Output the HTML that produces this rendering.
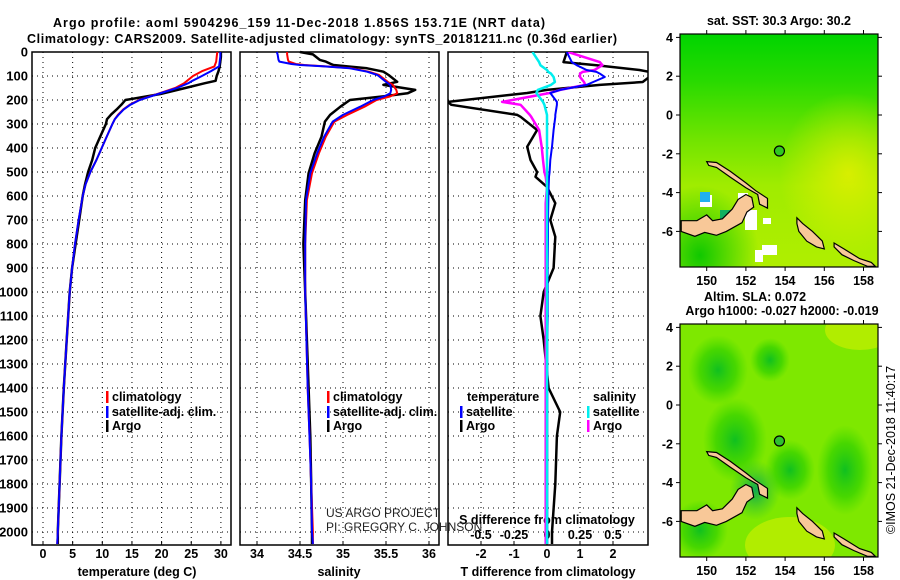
<!DOCTYPE html>
<html><head><meta charset="utf-8">
<style>
html,body{margin:0;padding:0;background:#fff;}
svg{display:block;font-family:"Liberation Sans",sans-serif;}
.b{font-weight:bold;font-size:12.5px;}
.d{font-weight:bold;font-size:13px;}
</style></head>
<body>
<svg id="c" width="900" height="580" viewBox="0 0 900 580"></svg>
<script>
// ---- data ----
const depths   = [0,20,40,60,80,100,120,130,150,175,200,220,240,260,280,300,350,400,450,500,550,600,700,800,900,1000,1200,1400,1600,1800,2000,2050];
const tempArgo = [30.0,30.0,29.9,29.8,29.6,29.3,29.1,27.3,24.0,19.8,13.9,13.2,12.4,11.5,10.8,10.6,9.7,8.8,8.3,7.6,7.1,6.7,6.1,5.5,4.9,4.5,4.0,3.5,3.1,2.8,2.5,2.5];
const tempClim = [29.4,29.3,29.2,28.9,26.8,25.3,24.3,23.8,22.3,19.3,16.2,14.6,13.5,12.7,12.1,11.7,10.8,9.9,9.0,8.0,7.2,6.7,6.0,5.4,4.9,4.5,4.0,3.5,3.1,2.8,2.5,2.4];
const tempSat  = [29.9,29.9,29.8,29.7,28.3,26.8,25.2,24.5,22.6,19.4,16.3,14.7,13.6,12.8,12.1,11.7,10.8,9.9,9.0,8.0,7.2,6.7,6.0,5.4,4.9,4.5,4.0,3.5,3.1,2.8,2.5,2.4];
const salDepths= [0,10,33,40,50,54,60,68,82,96,124,137,158,172,185,200,228,262,290,353,422,505,617,800,1000,1400,1600,1800,2000,2050];
const salArgo  = [34.50,34.65,34.73,34.80,34.86,34.89,35.05,35.28,35.47,35.53,35.63,35.47,35.84,35.75,35.47,35.08,34.97,34.85,34.79,34.75,34.67,34.60,34.56,34.54,34.56,34.60,34.62,34.63,34.64,34.64];
const salClim  = [34.35,34.35,34.36,34.37,34.45,34.55,34.80,35.10,35.30,35.42,35.52,35.58,35.62,35.63,35.55,35.39,35.25,35.05,34.90,34.80,34.72,34.64,34.58,34.56,34.56,34.59,34.61,34.63,34.65,34.65];
const salSat   = [34.23,34.24,34.25,34.26,34.40,34.50,34.78,35.08,35.28,35.40,35.50,35.55,35.56,35.55,35.48,35.35,35.20,35.00,34.88,34.78,34.70,34.62,34.57,34.56,34.56,34.59,34.61,34.63,34.64,34.65];
const difDepths= [0,42,55,75,83,90,104,125,137,158,171,208,220,262,270,325,395,450,500,520,562,630,700,770,900,1000,1100,1200,1400,1500,1600,1800,2000,2050];
const tDiffArgo= [0.6,0.5,1.5,2.8,3.1,3.3,3.1,2.9,1.6,0.0,-0.6,-3.0,-2.9,-0.9,-0.8,-0.3,-0.6,-0.5,-0.3,-0.35,0.0,0.25,0.1,0.25,0.2,-0.1,-0.2,-0.1,0.05,0.4,0.3,0.25,0.15,0.15];
const tDiffSat = [0.6,0.75,0.9,1.2,1.5,1.6,1.75,1.4,1.2,0.4,0.1,0.3,0.3,0.25,0.25,0.2,0.15,0.1,0.08,0.06,0.05,0.04,0.03,0.03,0.02,0.02,0.02,0.01,0.01,0.01,0.01,0.01,0.01,0.01];
const sDiffSat = [-0.11,-0.06,-0.05,0.0,0.01,0.03,0.05,0.06,0.03,-0.07,-0.08,-0.03,-0.02,0.0,0.0,0.0,0.0,0.0,0.0,0.0,0.0,0.0,0.0,0.0,0.0,0.0,0.0,0.0,0.0,0.0,0.0,0.0,0.0,0.0];
const sDiffArgo= [0.16,0.40,0.42,0.36,0.27,0.25,0.25,0.28,0.29,0.10,0.02,-0.34,-0.2,-0.13,-0.12,-0.06,-0.04,-0.03,-0.02,-0.01,0.0,-0.01,-0.01,-0.01,-0.01,-0.01,-0.01,-0.01,-0.01,-0.01,-0.01,-0.01,-0.01,-0.01];
const depthTicks = [0,100,200,300,400,500,600,700,800,900,1000,1100,1200,1300,1400,1500,1600,1700,1800,1900,2000];
const tempTicks = [0,5,10,15,20,25,30];
const salTicks = [34,34.5,35,35.5,36];
const tdTicks = [-2,-1,0,1,2];
const sdTicks = [-0.5,-0.25,0,0.25,0.5];
const sdTickLabels = ["-0.5","-0.25","0","0.25","0.5"];
const latTicks = [4,2,0,-2,-4,-6];
const lonTicks = [150,152,154,156,158];
const argoLon = 153.71, argoLat = -1.856;

// ---- scales ----
const yD = d => 52 + d*0.24;
const xT = t => 43 + 5.93*t;
const xS = s => 257 + 86*(s-34);
const xTD = t => 547 + 33*t;
const xSD = s => 547 + 132*s;
const NS='http://www.w3.org/2000/svg';
const svg=document.getElementById('c');
function el(tag,attrs,parent){const e=document.createElementNS(NS,tag);for(const k in attrs)e.setAttribute(k,attrs[k]);(parent||svg).appendChild(e);return e;}
function txt(x,y,s,cls,anchor,parent){const t=el('text',{x:x,y:y,'text-anchor':anchor||'start'},parent);if(cls)t.setAttribute('class',cls);t.textContent=s;return t;}

// titles
let t1=txt(53,27,"Argo profile: aoml 5904296_159 11-Dec-2018 1.856S 153.71E (NRT data)","b");


t1.setAttribute('textLength','492');t1.setAttribute('font-size','14');
let t2=txt(27,43,"Climatology: CARS2009. Satellite-adjusted climatology: synTS_20181211.nc (0.36d earlier)","b");


t2.setAttribute('textLength','590');t2.setAttribute('font-size','14');

const panels=[{x0:32,x1:231,name:'temperature-panel'},{x0:240,x1:439,name:'salinity-panel'},{x0:448,x1:648,name:'difference-panel'}];
const yBot=545;
panels.forEach((p,i)=>{
  const g=el('g',{});
  
  
  depthTicks.forEach(d=>{ if(d>0){const l=el('line',{x1:p.x0,x2:p.x1,y1:yD(d),y2:yD(d),stroke:'#000','stroke-width':1,'stroke-dasharray':'1,4'},g);}});
  let xs = i==0? tempTicks.map(xT) : i==1? salTicks.map(xS) : tdTicks.map(xTD);
  xs.forEach(x=>{const l=el('line',{x1:x,x2:x,y1:52,y2:yBot,stroke:'#000','stroke-width':1,'stroke-dasharray':'1,4'},g);
    el('line',{x1:x,x2:x,y1:yBot,y2:yBot-4,stroke:'#000'},g);});
  const r=el('rect',{x:p.x0,y:52,width:p.x1-p.x0,height:yBot-52,fill:'none',stroke:'#000','stroke-width':1.5},g);
  
});
depthTicks.forEach(d=>{const t=txt(28,yD(d)+4.5,String(d),'d','end');});
tempTicks.forEach(v=>{const t=txt(xT(v),558,String(v),'b','middle');});
salTicks.forEach(v=>{const t=txt(xS(v),558,String(v),'b','middle');});
tdTicks.forEach(v=>{const t=txt(xTD(v),558,String(v),'b','middle');});
sdTicks.forEach((v,i)=>{const t=txt(xSD(v),539,sdTickLabels[i],'b','middle');});
let a;
a=txt(137,576,"temperature (deg C)",'b','middle');
a=txt(339,576,"salinity",'b','middle');
a=txt(548,576,"T difference from climatology",'b','middle');
a=txt(547,524,"S difference from climatology",'b','middle');
a=txt(326,517,"US ARGO PROJECT",null);a.setAttribute('font-size','12');a.setAttribute('fill','#222');
a=txt(326,531,"PI: GREGORY C. JOHNSON",null);a.setAttribute('font-size','12');a.setAttribute('fill','#222');

function line(ds,vs,xf,color,w,name){
  const pts=ds.map((d,i)=>xf(vs[i]).toFixed(1)+','+yD(d).toFixed(1)).join(' ');
  const p=el('polyline',{points:pts,fill:'none',stroke:color,'stroke-width':w,'stroke-linejoin':'round'});
  
  
}
const defs=el('defs',{});
const cp=el('clipPath',{id:'dclip'},defs);el('rect',{x:448,y:52,width:200,height:493},cp);
line(depths,tempArgo,xT,'#000',2.5,'temp-argo-line');
line(depths,tempClim,xT,'#f00',2,'temp-climatology-line');
line(depths,tempSat,xT,'#00f',2,'temp-satellite-line');
line(salDepths,salArgo,xS,'#000',2.5,'sal-argo-line');
line(salDepths,salClim,xS,'#f00',2,'sal-climatology-line');
line(salDepths,salSat,xS,'#00f',2,'sal-satellite-line');
const dg=el('g',{'clip-path':'url(#dclip)'});
function dline(vs,xf,color,w,name){
  const pts=difDepths.map((d,i)=>xf(vs[i]).toFixed(1)+','+yD(d).toFixed(1)).join(' ');
  const p=el('polyline',{points:pts,fill:'none',stroke:color,'stroke-width':w,'stroke-linejoin':'round'},dg);
  
  
}
dline(tDiffArgo,xTD,'#000',2.5,'tdiff-argo-line');
dline(sDiffArgo,xSD,'#f0f',2.5,'sdiff-argo-line');
dline(tDiffSat,xTD,'#00f',2,'tdiff-satellite-line');
dline(sDiffSat,xSD,'#0ee',2.5,'sdiff-satellite-line');

function leg(x,y,color,label,name){
  const g=el('g',{});
  
  
  el('rect',{x:x,y:y-10,width:2.5,height:12,fill:color},g);
  txt(x+6,y,label,'b','start',g);
}
leg(106,401,'#f00','climatology','legend-entry-climatology');
leg(106,416,'#00f','satellite-adj. clim.','legend-entry-satellite');
leg(106,430,'#000','Argo','legend-entry-argo');
leg(327,401,'#f00','climatology','legend-entry-climatology-sal');
leg(327,416,'#00f','satellite-adj. clim.','legend-entry-satellite-sal');
leg(327,430,'#000','Argo','legend-entry-argo-sal');
a=txt(467,401,'temperature','b');
a=txt(593,401,'salinity','b');
leg(460,416,'#00f','satellite','legend-entry-tdiff-satellite');
leg(460,430,'#000','Argo','legend-entry-tdiff-argo');
leg(587,416,'#0ee','satellite','legend-entry-sdiff-satellite');
leg(587,430,'#f0f','Argo','legend-entry-sdiff-argo');

// ---- maps ----
const lonX = lon => 706.7 + 19.6*(lon-150);
const latY0 = lat => 115 - 19.4*lat;
const newBritain=[[148.7,-5.45],[149.5,-5.45],[150.0,-5.15],[150.3,-5.45],[150.8,-5.35],[151.3,-4.85],[151.6,-4.35],[152.0,-4.1],[152.3,-4.25],[152.4,-4.75],[152.05,-5.0],[151.8,-5.55],[151.0,-6.0],[150.5,-6.2],[149.9,-6.05],[149.4,-6.25],[148.7,-6.0]];
const newIreland=[[150.0,-2.4],[150.5,-2.45],[151.2,-2.9],[152.0,-3.5],[152.5,-3.9],[153.1,-4.3],[153.1,-4.8],[152.7,-4.6],[152.6,-4.1],[152.0,-3.75],[151.2,-3.2],[150.5,-2.7],[150.1,-2.6]];
const bougainville=[[154.6,-5.3],[154.9,-5.6],[155.4,-6.0],[155.9,-6.5],[156.0,-6.9],[155.6,-6.8],[155.1,-6.5],[154.7,-6.0],[154.6,-5.6]];
const choiseul=[[156.5,-6.6],[157.0,-6.9],[157.8,-7.4],[158.4,-7.6],[158.6,-7.8],[158.2,-7.8],[157.5,-7.5],[156.9,-7.2],[156.5,-6.8]];
function map(yOff,bg,name,dot){
  const latY = lat => latY0(lat)+yOff;
  const g=el('g',{});
  
  
  const id='mc'+yOff;
  const c=el('clipPath',{id:id},defs);el('rect',{x:680,y:34+yOff,width:198,height:233},c);
  const inner=el('g',{'clip-path':'url(#'+id+')'},g);
  bg(inner,yOff);
  [newBritain,newIreland,bougainville,choiseul].forEach(poly=>{
    const p=el('polygon',{points:poly.map(q=>lonX(q[0]).toFixed(1)+','+latY(q[1]).toFixed(1)).join(' '),fill:'#f8c898',stroke:'#000','stroke-width':1.2},inner);
    
    
  });
  const ci=el('circle',{cx:lonX(argoLon),cy:latY(argoLat),r:5,fill:dot,stroke:'#000','stroke-width':1.2},g);
  
  
  el('rect',{x:680,y:34+yOff,width:198,height:233,fill:'none',stroke:'#000','stroke-width':1.2},g);
  latTicks.forEach(v=>{const y=latY(v);el('line',{x1:676,x2:680,y1:y,y2:y,stroke:'#000'},g);el('line',{x1:878,x2:882,y1:y,y2:y,stroke:'#000'},g);
    const t=txt(673,y+4.5,String(v),'b','end',g);});
  lonTicks.forEach(v=>{const x=lonX(v);el('line',{x1:x,x2:x,y1:267+yOff,y2:271+yOff,stroke:'#000'},g);el('line',{x1:x,x2:x,y1:30+yOff,y2:34+yOff,stroke:'#000'},g);
    const t=txt(x,285+yOff,String(v),'b','middle',g);});
}
el('linearGradient',{id:'sstg',x1:0,y1:0,x2:0,y2:1},defs).innerHTML='<stop offset="0" stop-color="#00d400"/><stop offset="0.2" stop-color="#28da00"/><stop offset="0.45" stop-color="#70e400"/><stop offset="0.65" stop-color="#a0ec00"/><stop offset="1" stop-color="#b0ee00"/>';
el('radialGradient',{id:'sstY',cx:0.85,cy:0.6,r:0.35},defs).innerHTML='<stop offset="0" stop-color="#e8f000" stop-opacity="0.8"/><stop offset="1" stop-color="#e8f000" stop-opacity="0"/>';
el('radialGradient',{id:'sstBL',cx:0.1,cy:0.95,r:0.3},defs).innerHTML='<stop offset="0" stop-color="#10c800"/><stop offset="1" stop-color="#10c800" stop-opacity="0"/>';
map(0,(g,o)=>{
  el('rect',{x:680,y:34,width:198,height:233,fill:'url(#sstg)'},g);
  el('rect',{x:680,y:34,width:198,height:233,fill:'url(#sstY)'},g);
  el('rect',{x:680,y:34,width:198,height:233,fill:'url(#sstBL)'},g);
  [[700,195,12,12],[738,193,10,14],[745,210,12,20],[763,218,8,6],[762,245,15,10],[755,250,8,12]].forEach(r=>el('rect',{x:r[0],y:r[1],width:r[2],height:r[3],fill:'#fff'},g));
  el('rect',{x:700,y:192,width:10,height:10,fill:'#20b0f0'},g);
  el('rect',{x:720,y:210,width:10,height:10,fill:'#10b060'},g);
},'sst-map','#30c820');
el('radialGradient',{id:'slaD',cx:0.5,cy:0.5,r:0.5},defs).innerHTML='<stop offset="0" stop-color="#10c020"/><stop offset="0.6" stop-color="#30d000" stop-opacity="0.7"/><stop offset="1" stop-color="#40d800" stop-opacity="0"/>';
el('radialGradient',{id:'slaT',cx:0.5,cy:0.5,r:0.5},defs).innerHTML='<stop offset="0" stop-color="#10a850"/><stop offset="1" stop-color="#20c030" stop-opacity="0"/>';
map(290,(g,o)=>{
  el('rect',{x:680,y:324,width:198,height:233,fill:'#7ee800'},g);
  [[718,370,30,35],[735,440,32,42],[845,470,28,45],[770,360,20,22],[700,530,28,30],[790,470,25,30]].forEach(e=>el('ellipse',{cx:e[0],cy:e[1],rx:e[2],ry:e[3],fill:'url(#slaD)'},g));
  el('ellipse',{cx:755,cy:490,rx:25,ry:30,fill:'url(#slaT)'},g);
  el('ellipse',{cx:790,cy:545,rx:45,ry:28,fill:'#c8f000',opacity:0.7},g);
  el('ellipse',{cx:860,cy:330,rx:35,ry:20,fill:'#c8f000',opacity:0.7},g);
},'sla-map','#30c030');
a=txt(779,25,'sat. SST: 30.3 Argo: 30.2','b','middle');
a=txt(755,301,'Altim. SLA: 0.072','b','middle');
a=txt(782,315,'Argo h1000: -0.027 h2000: -0.019','b','middle');
a=txt(0,0,'©IMOS 21-Dec-2018 11:40:17',null,'middle');a.setAttribute('font-size','12.5');a.setAttribute('transform','translate(895,450) rotate(-90)');

</script>
</body></html>
